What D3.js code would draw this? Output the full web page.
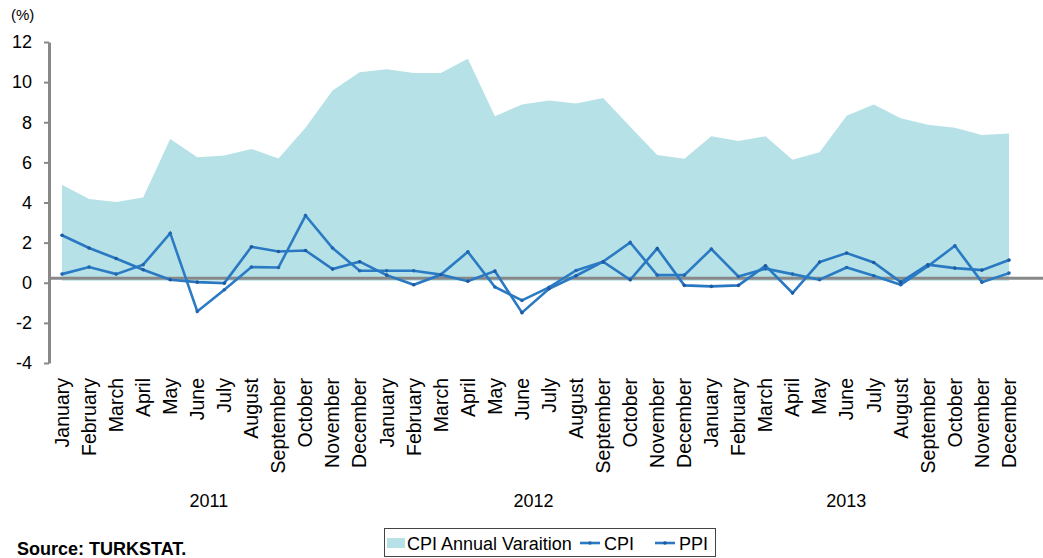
<!DOCTYPE html>
<html>
<head>
<meta charset="utf-8">
<script src="https://cdn.jsdelivr.net/npm/d3@7"></script>
<style>
  body { margin: 0; background: #fff; }
  svg { font-family: "Liberation Sans", Arial, sans-serif; }
</style>
</head>
<body>
<div class="chart"></div>
<script>
const months = ["January", "February", "March", "April", "May", "June", "July",
  "August", "September", "October", "November", "December"];
const years = ["2011", "2012", "2013"];

// CPI annual variation (%), Jan 2011 - Dec 2013
const cpiAnnual = [4.88, 4.18, 4.02, 4.25, 7.17, 6.26, 6.34, 6.67, 6.19, 7.73, 9.58, 10.49,
  10.64, 10.46, 10.46, 11.16, 8.30, 8.88, 9.08, 8.93, 9.21, 7.78, 6.37, 6.18,
  7.30, 7.06, 7.30, 6.13, 6.51, 8.32, 8.89, 8.20, 7.88, 7.73, 7.37, 7.44];
// monthly CPI (%)
const cpi = [0.43, 0.78, 0.43, 0.90, 2.47, -1.43, -0.35, 0.78, 0.76, 3.35, 1.73, 0.60,
  0.60, 0.60, 0.41, 1.54, -0.21, -0.88, -0.23, 0.61, 1.05, 2.01, 0.38, 0.38,
  1.68, 0.31, 0.70, 0.43, 0.15, 0.76, 0.35, -0.10, 0.82, 1.84, 0.03, 0.48];
// monthly PPI (%)
const ppi = [2.37, 1.73, 1.21, 0.65, 0.15, 0.03, -0.02, 1.79, 1.56, 1.61, 0.68, 1.05,
  0.38, -0.10, 0.40, 0.08, 0.58, -1.49, -0.30, 0.35, 1.05, 0.15, 1.71, -0.13,
  -0.18, -0.13, 0.85, -0.51, 1.03, 1.48, 1.01, 0.03, 0.90, 0.73, 0.63, 1.13];
const yTicks = [-4, -2, 0, 2, 4, 6, 8, 10, 12];

const w = 1043, h = 558;
const idx = d3.range(cpiAnnual.length);

const x = d3.scalePoint().domain(idx).range([62, 1009]);
const y = d3.scaleLinear().domain([-4, 12]).range([363, 42]);

const svg = d3.select(".chart").append("svg")
  .attr("width", w)
  .attr("height", h);

// area
const area = d3.area()
  .x(i => x(i))
  .y0(y(0.1))
  .y1(i => y(cpiAnnual[i]));
svg.append("path")
  .datum(idx)
  .attr("fill", "#b5e1e7")
  .attr("d", area);

// y axis
const yAxis = d3.axisLeft(y).tickValues(yTicks).tickSize(5).tickSizeOuter(0)
  .tickPadding(12).tickFormat(d => String(d));
const gy = svg.append("g")
  .attr("transform", "translate(49,0)")
  .call(yAxis);
gy.select(".domain").attr("stroke", "#888").attr("stroke-width", 3);
gy.selectAll(".tick line").attr("stroke", "#888").attr("stroke-width", 2);
gy.selectAll(".tick text").attr("font-size", 18).attr("fill", "#000")
  .style("font-family", "'Liberation Sans', Arial, sans-serif");

// horizontal axis line
svg.append("line")
  .attr("x1", 48).attr("x2", w)
  .attr("y1", y(0.22)).attr("y2", y(0.22))
  .attr("stroke", "#888").attr("stroke-width", 3);

// lines
const line = vals => d3.line().x(i => x(i)).y(i => y(vals[i]));
const series = [
  { name: "CPI", vals: cpi, color: "#2b7bc4", dot: "#2266b0" },
  { name: "PPI", vals: ppi, color: "#2a78c2", dot: "#1d58a0" }
];
series.forEach(s => {
  svg.append("path")
    .datum(idx)
    .attr("fill", "none")
    .attr("stroke", s.color)
    .attr("stroke-width", 2.6)
    .attr("stroke-linejoin", "miter")
    .attr("d", line(s.vals));
  svg.append("g").selectAll("circle")
    .data(idx)
    .enter().append("circle")
    .attr("cx", i => x(i))
    .attr("cy", i => y(s.vals[i]))
    .attr("r", 1.8)
    .attr("fill", s.dot);
});

// month labels
svg.append("g").selectAll("text")
  .data(idx)
  .enter().append("text")
  .attr("transform", i => `translate(${x(i)},378) rotate(-90)`)
  .attr("dy", "0.35em")
  .attr("text-anchor", "end")
  .attr("font-size", 19.5)
  .text(i => months[i % 12]);

// year labels
const yearShift = [-2, -2, -14];
svg.append("g").selectAll("text")
  .data(years)
  .enter().append("text")
  .attr("x", (d, k) => (x(k * 12) + x(k * 12 + 11)) / 2 + yearShift[k])
  .attr("y", 507)
  .attr("text-anchor", "middle")
  .attr("font-size", 18)
  .text(d => d);

// unit label
svg.append("text")
  .attr("x", 11).attr("y", 20)
  .attr("font-size", 15)
  .text("(%)");

// source
svg.append("text")
  .attr("x", 17).attr("y", 555)
  .attr("font-size", 18)
  .attr("font-weight", "bold")
  .text("Source: TURKSTAT.");

// legend
const lg = svg.append("g");
lg.append("rect")
  .attr("x", 384.5).attr("y", 528.5)
  .attr("width", 331).attr("height", 28)
  .attr("fill", "#fff").attr("stroke", "#444").attr("stroke-width", 1);
lg.append("rect")
  .attr("x", 387).attr("y", 538).attr("width", 18).attr("height", 10)
  .attr("fill", "#b5e1e7");
lg.append("text").attr("x", 407).attr("y", 550).attr("font-size", 18)
  .text("CPI Annual Varaition");
const legItems = [{ x: 580, tx: 604 }, { x: 655, tx: 679 }];
series.forEach((s, k) => {
  const it = legItems[k];
  lg.append("line")
    .attr("x1", it.x).attr("x2", it.x + 20)
    .attr("y1", 543).attr("y2", 543)
    .attr("stroke", s.color).attr("stroke-width", 2.6);
  lg.append("circle").attr("cx", it.x + 10).attr("cy", 543).attr("r", 1.8).attr("fill", s.dot);
  lg.append("text").attr("x", it.tx).attr("y", 550).attr("font-size", 18).text(s.name);
});
</script>
</body>
</html>
